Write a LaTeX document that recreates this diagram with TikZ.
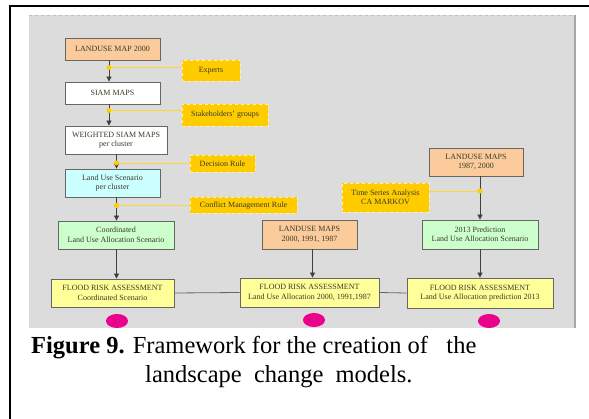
\documentclass[tikz,border=0pt]{standalone}
\usepackage{fontspec}
\setmainfont{Liberation Serif}
\usepackage{tikz}
\usetikzlibrary{arrows.meta,shapes}

\definecolor{panel}{HTML}{DCDCDC}
\definecolor{peach}{HTML}{FBCB9B}
\definecolor{cyanbox}{HTML}{CCFFFF}
\definecolor{greenbox}{HTML}{CCFFCC}
\definecolor{yelbox}{HTML}{FFFF99}
\definecolor{gold}{HTML}{FFCC00}
\definecolor{boxtext}{HTML}{3A3A2A}

\tikzset{
    box/.style={draw=gray!80!black, line width=0.8pt, inner sep=0pt, align=center,
        text=boxtext, font=\fontsize{8}{9.5}\selectfont},
    tag/.style={fill=gold, draw=white!70!gold, dashed, line width=0.8pt, inner sep=0pt,
        align=center, text=boxtext, font=\fontsize{8}{9.5}\selectfont},
    flow/.style={draw=black!75, line width=0.8pt, -{Triangle[length=5pt,width=5pt]}},
    link/.style={draw=black!60, line width=0.8pt},
    hook/.style={draw=gold!80!white, line width=0.7pt},
    dot/.style={fill=gold},
    badge/.style={ellipse, fill=magenta, minimum width=22pt, minimum height=14pt,
        inner sep=0pt, font=\fontsize{4.5}{4.5}\selectfont, text=black!60}
}

\begin{document}
\begin{tikzpicture}[x=1pt, y=-1pt]
    \useasboundingbox (0,0) rectangle (589,419);
    \fill[white] (0,0) rectangle (589,419);
    \draw[black, line width=2pt] (9.5,419) -- (9.5,6) -- (589,6);
    \fill[panel] (29,15) rectangle (575,328);
    \draw[gray!50, dashed, line width=0.5pt] (29,15.5) -- (575,15.5);
    \draw[gray!70, line width=1.5pt] (575,15) -- (575,328);

    \node[box, fill=peach, minimum width=95pt, minimum height=22pt] (lu1) at (112.5,49) {LANDUSE MAP 2000};
    \node[box, fill=white, minimum width=95pt, minimum height=22pt] (siam) at (112.5,93) {SIAM MAPS};
    \node[box, fill=white, minimum width=102pt, minimum height=28pt] (wsiam) at (116,140) {WEIGHTED SIAM MAPS\\per cluster};
    \node[box, fill=cyanbox, minimum width=95pt, minimum height=28pt] (lus) at (112.5,183) {Land Use Scenario\\per cluster};
    \node[box, fill=greenbox, minimum width=116pt, minimum height=28pt] (cor) at (116,235) {Coordinated\\Land Use Allocation Scenario};
    \node[box, fill=yelbox, minimum width=123pt, minimum height=28pt] (fr1) at (112.5,293) {FLOOD RISK ASSESSMENT\\Coordinated Scenario};
    \node[box, fill=peach, minimum width=95pt, minimum height=29pt] (lu2) at (309.5,234.5) {LANDUSE MAPS\\2000, 1991, 1987};
    \node[box, fill=yelbox, minimum width=139pt, minimum height=29pt] (fr2) at (309.5,292.5) {FLOOD RISK ASSESSMENT\\Land Use Allocation 2000, 1991,1987};
    \node[box, fill=peach, minimum width=94pt, minimum height=28pt] (lu3) at (476,162) {LANDUSE MAPS\\1987, 2000};
    \node[box, fill=greenbox, minimum width=116pt, minimum height=29pt] (pred) at (480,234.5) {2013 Prediction\\Land Use Allocation Scenario};
    \node[box, fill=yelbox, minimum width=146pt, minimum height=30pt] (fr3) at (480,293) {FLOOD RISK ASSESSMENT\\Land Use Allocation prediction 2013};

    \node[tag, minimum width=58pt, minimum height=21pt] (exp) at (211,70.5) {Experts};
    \node[tag, minimum width=86pt, minimum height=22pt] (stk) at (225,115) {Stakeholders' groups};
    \node[tag, minimum width=65pt, minimum height=17pt] (dec) at (222.5,163.5) {Decision Rule};
    \node[tag, minimum width=107pt, minimum height=16pt] (cmr) at (243.5,205.5) {Conflict Management Rule};
    \node[tag, minimum width=87pt, minimum height=29pt] (tsa) at (385.5,197.5) {Time Series Analysis\\CA MARKOV};

    \node[badge] (ma) at (117,321) {A};
    \node[badge] (mb) at (314,320) {B};
    \node[badge] (mc) at (489,321) {C};

    \coordinate (c1) at (109,0);
    \coordinate (c2) at (116.5,0);
    \coordinate (c3) at (312.5,0);
    \coordinate (c4) at (480,0);
    \coordinate (d1) at (109,67.5);
    \coordinate (d2) at (109,110.5);
    \coordinate (d3) at (116.5,163);
    \coordinate (d4) at (116.5,205.5);
    \coordinate (d5) at (480,191);

    \draw[hook] (d1) -- (d1 -| exp.west);
    \draw[hook] (d2) -- (d2 -| stk.west);
    \draw[hook] (d3) -- (d3 -| dec.west);
    \draw[hook] (d4) -- (d4 -| cmr.west);
    \draw[hook] (d5) -- (d5 -| tsa.east);

    \draw[flow] (lu1.south -| c1) -- (siam.north -| c1);
    \draw[flow] (siam.south -| c1) -- (wsiam.north -| c1);
    \draw[flow] (wsiam.south -| c2) -- (lus.north -| c2);
    \draw[flow] (lus.south -| c2) -- (cor.north -| c2);
    \draw[flow] (cor.south -| c2) -- (fr1.north -| c2);
    \draw[flow] (lu2.south -| c3) -- (fr2.north -| c3);
    \draw[flow] (lu3.south -| c4) -- (pred.north -| c4);
    \draw[flow] (pred.south -| c4) -- (fr3.north -| c4);
    \draw[link] (fr1.east) -- (fr2.west);
    \draw[link] (fr2.east) -- (fr3.west);

    \foreach \d in {d1,d2,d3,d4,d5}
        \fill[dot] (\d) circle (2.5pt);

    \node[anchor=base west, inner sep=0pt, font=\fontsize{24.5}{29}\selectfont] (cap1) at (31,354)
        {\textbf{Figure 9.} Framework for the creation of\ \ \ the};
    \node[anchor=base west, inner sep=0pt, font=\fontsize{24.5}{29}\selectfont] (cap2) at (145,383)
        {landscape\ \ change\ \ models.};
\end{tikzpicture}
\end{document}
